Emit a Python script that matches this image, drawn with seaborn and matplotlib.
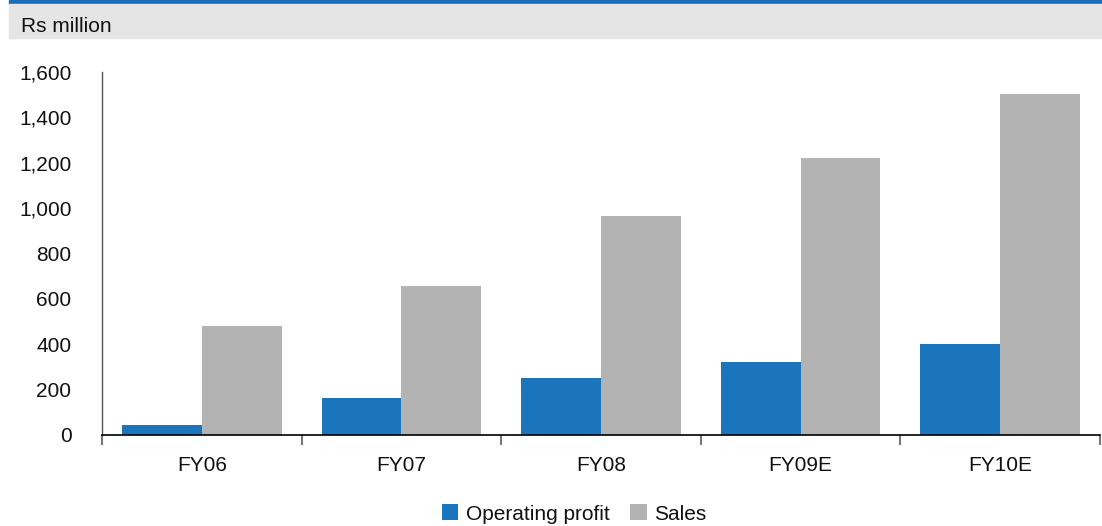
import matplotlib
matplotlib.use("Agg")
import matplotlib.pyplot as plt
from matplotlib.patches import Rectangle
from matplotlib.ticker import FuncFormatter, FixedLocator
import seaborn as sns
import pandas as pd

years = ["FY06", "FY07", "FY08", "FY09E", "FY10E"]
operating_profit = [44, 163, 251, 322, 401]
sales = [480, 657, 965, 1221, 1503]
series_names = ["Operating profit", "Sales"]
colors = ["#1a75bc", "#b3b3b3"]

df = pd.DataFrame({
    "year": years * 2,
    "series": [series_names[0]] * len(years) + [series_names[1]] * len(years),
    "value": operating_profit + sales,
})

sns.set_theme(style="white")
plt.rcParams["font.family"] = ["Liberation Sans Narrow", "Liberation Sans", "DejaVu Sans"]

W, H = 1102, 526
fig = plt.figure(figsize=(W / 100, H / 100), dpi=100)
ax = fig.add_axes([102 / W, 1 - 435 / H, 998 / W, 363 / H])

sns.barplot(data=df, x="year", y="value", hue="series", order=years,
            hue_order=series_names, palette=colors, width=0.8,
            saturation=1, linewidth=0, edgecolor="none", ax=ax, legend=True)

ax.set_ylim(0, 1600)
ax.set_xlim(-0.5, len(years) - 0.5)
ax.set_yticks(range(0, 1601, 200))
ax.yaxis.set_major_formatter(FuncFormatter(lambda v, p: f"{int(v):,}"))
ax.set_xlabel("")
ax.set_ylabel("")

for s in ["top", "right"]:
    ax.spines[s].set_visible(False)
ax.spines["left"].set_color("#555555")
ax.spines["left"].set_linewidth(1.0)
ax.spines["bottom"].set_color("#000000")
ax.spines["bottom"].set_linewidth(1.2)

ax.tick_params(axis="y", which="major", direction="out", length=8, width=1,
               color="#555555", labelsize=15, labelcolor="#111111", pad=14)
ax.tick_params(axis="x", which="major", length=0, labelsize=15,
               labelcolor="#111111", pad=15)
ax.xaxis.set_minor_locator(FixedLocator([i - 0.5 for i in range(len(years) + 1)]))
ax.tick_params(axis="x", which="minor", direction="out", length=7, width=1.5,
               color="#777777", bottom=True)

handles, labels = ax.get_legend_handles_labels()
ax.get_legend().remove()
leg = fig.legend(handles, labels, loc="center", bbox_to_anchor=(574 / W, 1 - 514 / H),
                 ncol=2, frameon=False, fontsize=15, handlelength=0.8, handleheight=0.8,
                 handletextpad=0.35, columnspacing=1.0, borderaxespad=0,
                 borderpad=0)
for t in leg.get_texts():
    t.set_color("#111111")

# Header band
fig.patches.append(Rectangle((9 / W, 1 - 4 / H), 1 - 9 / W, 4 / H,
                             transform=fig.transFigure, color="#1a6eb8", zorder=0))
fig.patches.append(Rectangle((9 / W, 1 - 38 / H), 1 - 9 / W, 34 / H,
                             transform=fig.transFigure, color="#e5e5e5", zorder=0))
fig.text(21 / W, 1 - 32 / H, "Rs million", fontsize=15, va="baseline", ha="left",
         color="#111111", family=["Liberation Sans", "DejaVu Sans"])

fig.savefig("out.png", dpi=100)
